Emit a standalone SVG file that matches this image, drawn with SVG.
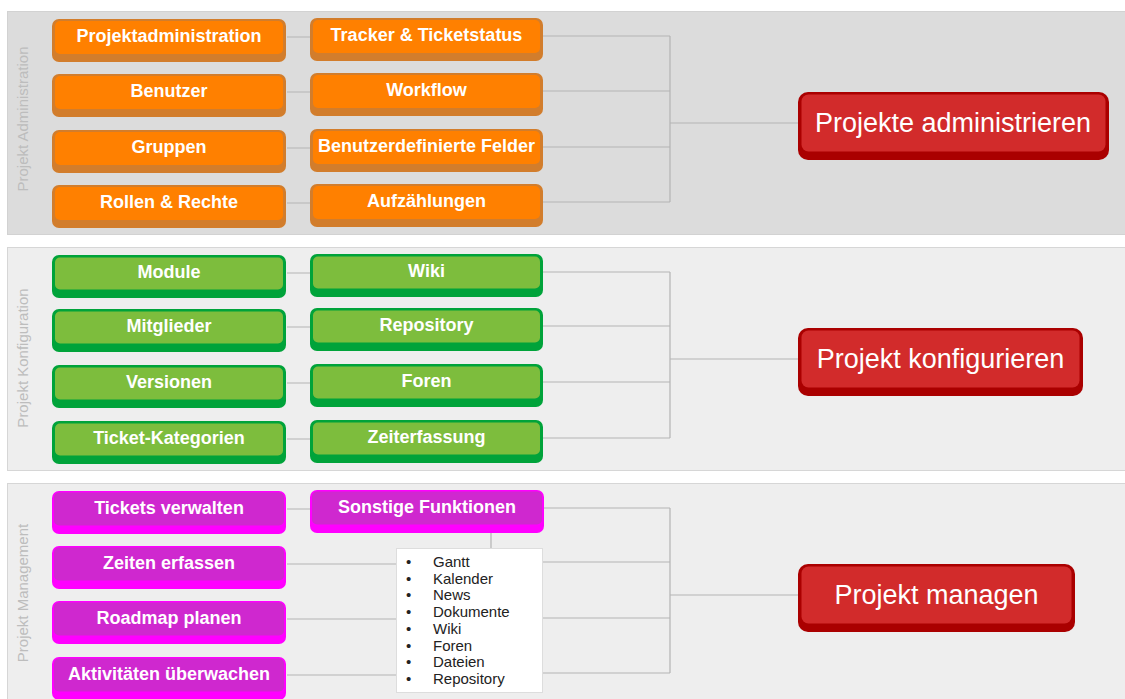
<svg xmlns="http://www.w3.org/2000/svg" width="1125" height="699" viewBox="0 0 1125 699">
<style>
.bt{font-family:"Liberation Sans",Arial,sans-serif;font-weight:bold;font-size:18px;fill:#ffffff;text-anchor:middle}
.rt{font-family:"Liberation Sans",Arial,sans-serif;font-size:27px;fill:#ffffff;text-anchor:middle}
.side{font-family:"Liberation Sans",Arial,sans-serif;font-size:15px;fill:#bdbdbd;text-anchor:middle}
.lt{font-family:"Liberation Sans",Arial,sans-serif;font-size:15px;fill:#222222}
.o1{fill:#d27d2c}.o2{fill:#ff8000}
.g1{fill:#00a33a}.g2{fill:#7dbd3d}
.m1{fill:#ff00ff}.m2{fill:#cf28cf}
.r1{fill:#aa0000}.r2{fill:#d22b2b}
.c{stroke:#b4b4b4;stroke-width:1.2;fill:none}
</style>
<rect width="1125" height="699" fill="#ffffff"/>
<g id="panels">
<rect x="7.5" y="11.5" width="1120" height="223" fill="#dcdcdc" stroke="#d2d2d2"/>
<rect x="7.5" y="247.5" width="1120" height="223" fill="#eeeeee" stroke="#d6d6d6"/>
<rect x="7.5" y="483.5" width="1120" height="220" fill="#eeeeee" stroke="#d6d6d6"/>
<text class="side" transform="translate(28,119) rotate(-90)">Projekt Administration</text>
<text class="side" transform="translate(28,358) rotate(-90)">Projekt Konfiguration</text>
<text class="side" transform="translate(28,593) rotate(-90)">Projekt Management</text>
</g>
<g id="connectors">
<path class="c" d="M287 37H310M287 92H310M287 148H310M287 203H310"/>
<path class="c" d="M543 36H670M543 91H670M543 147H670M543 202H670M670 36V202M670 123H798"/>
<path class="c" d="M287 273H310M287 327H310M287 383H310M287 439H310"/>
<path class="c" d="M543 272H670M543 326H670M543 382H670M543 438H670M670 272V438M670 359H798"/>
<path class="c" d="M287 509H310M287 564H397M287 619H397M287 675H397"/>
<path class="c" d="M543 508H670M542 562H670M542 618H670M542 673H670M670 508V673M670 595H798M491 532V548"/>
</g>
<g id="n-projektadministration"><rect class="o1" x="52" y="19" width="234" height="43" rx="7"/><rect class="o2" x="55" y="21" width="228" height="33" rx="5"/><text class="bt" x="169" y="42">Projektadministration</text></g>
<g id="n-benutzer"><rect class="o1" x="52" y="74" width="234" height="43" rx="7"/><rect class="o2" x="55" y="76" width="228" height="33" rx="5"/><text class="bt" x="169" y="97">Benutzer</text></g>
<g id="n-gruppen"><rect class="o1" x="52" y="130" width="234" height="43" rx="7"/><rect class="o2" x="55" y="132" width="228" height="33" rx="5"/><text class="bt" x="169" y="153">Gruppen</text></g>
<g id="n-rollen"><rect class="o1" x="52" y="185" width="234" height="43" rx="7"/><rect class="o2" x="55" y="187" width="228" height="33" rx="5"/><text class="bt" x="169" y="208">Rollen &amp; Rechte</text></g>
<g id="n-tracker"><rect class="o1" x="310" y="18" width="233" height="43" rx="7"/><rect class="o2" x="313" y="20" width="227" height="33" rx="5"/><text class="bt" x="426.5" y="41">Tracker &amp; Ticketstatus</text></g>
<g id="n-workflow"><rect class="o1" x="310" y="73" width="233" height="43" rx="7"/><rect class="o2" x="313" y="75" width="227" height="33" rx="5"/><text class="bt" x="426.5" y="96">Workflow</text></g>
<g id="n-felder"><rect class="o1" x="310" y="129" width="233" height="43" rx="7"/><rect class="o2" x="313" y="131" width="227" height="33" rx="5"/><text class="bt" x="426.5" y="152">Benutzerdefinierte Felder</text></g>
<g id="n-aufzaehlungen"><rect class="o1" x="310" y="184" width="233" height="43" rx="7"/><rect class="o2" x="313" y="186" width="227" height="33" rx="5"/><text class="bt" x="426.5" y="207">Aufzählungen</text></g>
<g id="n-module"><rect class="g1" x="52" y="255" width="234" height="43" rx="7"/><rect class="g2" x="55" y="257.5" width="228" height="32" rx="5"/><text class="bt" x="169" y="278">Module</text></g>
<g id="n-mitglieder"><rect class="g1" x="52" y="309" width="234" height="43" rx="7"/><rect class="g2" x="55" y="311.5" width="228" height="32" rx="5"/><text class="bt" x="169" y="332">Mitglieder</text></g>
<g id="n-versionen"><rect class="g1" x="52" y="365" width="234" height="43" rx="7"/><rect class="g2" x="55" y="367.5" width="228" height="32" rx="5"/><text class="bt" x="169" y="388">Versionen</text></g>
<g id="n-ticketkat"><rect class="g1" x="52" y="421" width="234" height="43" rx="7"/><rect class="g2" x="55" y="423.5" width="228" height="32" rx="5"/><text class="bt" x="169" y="444">Ticket-Kategorien</text></g>
<g id="n-wiki"><rect class="g1" x="310" y="254" width="233" height="43" rx="7"/><rect class="g2" x="313" y="256.5" width="227" height="32" rx="5"/><text class="bt" x="426.5" y="277">Wiki</text></g>
<g id="n-repository"><rect class="g1" x="310" y="308" width="233" height="43" rx="7"/><rect class="g2" x="313" y="310.5" width="227" height="32" rx="5"/><text class="bt" x="426.5" y="331">Repository</text></g>
<g id="n-foren"><rect class="g1" x="310" y="364" width="233" height="43" rx="7"/><rect class="g2" x="313" y="366.5" width="227" height="32" rx="5"/><text class="bt" x="426.5" y="387">Foren</text></g>
<g id="n-zeiterfassung"><rect class="g1" x="310" y="420" width="233" height="43" rx="7"/><rect class="g2" x="313" y="422.5" width="227" height="32" rx="5"/><text class="bt" x="426.5" y="443">Zeiterfassung</text></g>
<g id="n-tickets"><rect class="m1" x="52" y="491" width="234" height="43" rx="7"/><rect class="m2" x="54" y="492.5" width="230" height="33" rx="5"/><text class="bt" x="169" y="514">Tickets verwalten</text></g>
<g id="n-zeiten"><rect class="m1" x="52" y="546" width="234" height="43" rx="7"/><rect class="m2" x="54" y="547.5" width="230" height="33" rx="5"/><text class="bt" x="169" y="569">Zeiten erfassen</text></g>
<g id="n-roadmap"><rect class="m1" x="52" y="601" width="234" height="43" rx="7"/><rect class="m2" x="54" y="602.5" width="230" height="33" rx="5"/><text class="bt" x="169" y="624">Roadmap planen</text></g>
<g id="n-aktivitaeten"><rect class="m1" x="52" y="657" width="234" height="43" rx="7"/><rect class="m2" x="54" y="658.5" width="230" height="33" rx="5"/><text class="bt" x="169" y="680">Aktivitäten überwachen</text></g>
<g id="n-sonstige"><rect class="m1" x="310" y="490" width="234" height="43" rx="7"/><rect class="m2" x="312" y="491.5" width="230" height="33" rx="5"/><text class="bt" x="427" y="513">Sonstige Funktionen</text></g>
<g id="n-liste">
<rect x="396.5" y="548.5" width="146" height="144" fill="#ffffff" stroke="#dddddd"/>
<g class="lt">
<text x="406" y="567">•</text><text x="433" y="567">Gantt</text>
<text x="406" y="583.7">•</text><text x="433" y="583.7">Kalender</text>
<text x="406" y="600.4">•</text><text x="433" y="600.4">News</text>
<text x="406" y="617.1">•</text><text x="433" y="617.1">Dokumente</text>
<text x="406" y="633.8">•</text><text x="433" y="633.8">Wiki</text>
<text x="406" y="650.5">•</text><text x="433" y="650.5">Foren</text>
<text x="406" y="667.2">•</text><text x="433" y="667.2">Dateien</text>
<text x="406" y="684">•</text><text x="433" y="684">Repository</text>
</g>
</g>
<g id="n-administrieren"><rect class="r1" x="798" y="92" width="311" height="68" rx="10"/><rect class="r2" x="801.5" y="94.5" width="304" height="57" rx="7"/><text class="rt" x="953" y="131.5">Projekte administrieren</text></g>
<g id="n-konfigurieren"><rect class="r1" x="798" y="328" width="285" height="68" rx="10"/><rect class="r2" x="801.5" y="330.5" width="278" height="57" rx="7"/><text class="rt" x="940.5" y="367.5">Projekt konfigurieren</text></g>
<g id="n-managen"><rect class="r1" x="798" y="564" width="277" height="68" rx="10"/><rect class="r2" x="801.5" y="566.5" width="270" height="57" rx="7"/><text class="rt" x="936.5" y="603.5">Projekt managen</text></g>
</svg>
